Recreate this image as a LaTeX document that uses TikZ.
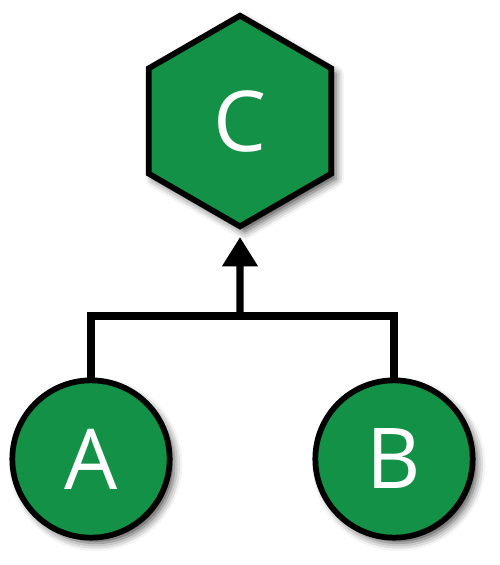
\documentclass[tikz,border=0pt]{standalone}
\usepackage{fontspec}
\setmainfont{Open Sans}
\usetikzlibrary{shapes.geometric,arrows.meta,shadows.blur}
\definecolor{leafgreen}{RGB}{19,145,71}
\begin{document}
\begin{tikzpicture}[x=0.75pt,y=-0.75pt,
  shade/.style={blur shadow={shadow xshift=3.5pt,shadow yshift=-4pt,shadow blur radius=6pt,shadow opacity=70}},
  leafnode/.style={circle,draw=black,line width=4.3pt,fill=leafgreen,minimum size=118pt,inner sep=0pt,outer sep=0pt,text=white,font=\fontsize{63}{63}\selectfont,shade},
  rootnode/.style={regular polygon,regular polygon sides=6,shape border rotate=30,draw=black,line width=4.3pt,fill=leafgreen,minimum size=158pt,inner sep=0pt,outer sep=0pt,text=white,font=\fontsize{63}{63}\selectfont,shade},
  link/.style={line width=5.5pt,line join=miter,line cap=butt}]
\useasboundingbox (0,0) rectangle (500,565);
\node[rootnode] (C) at (240,121) {C};
\node[leafnode] (A) at (91,459) {A};
\node[leafnode] (B) at (394,459) {B};
\coordinate (J) at (240,316);
\draw[link] (A.north) -- (A.north |- J) -- (B.north |- J) -- (B.north);
\draw[link,-{Triangle[length=22pt,width=25.5pt]},shorten >=8pt] (J) -- (C.south);
\end{tikzpicture}
\end{document}
